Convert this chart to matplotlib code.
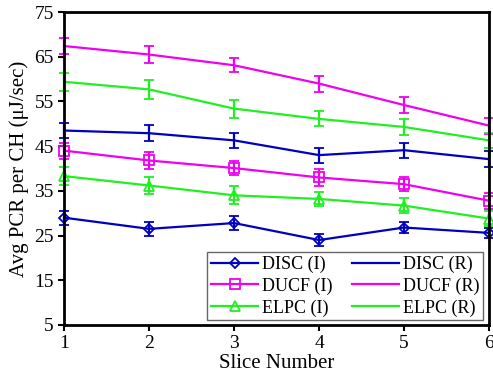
import matplotlib
matplotlib.use("Agg")
import matplotlib.pyplot as plt
from matplotlib.lines import Line2D

plt.rcParams['font.family'] = ['Liberation Serif', 'DejaVu Serif']

slices = [1, 2, 3, 4, 5, 6]

disc_i = [29.0, 26.5, 27.8, 24.0, 26.8, 25.6]
disc_r = [48.5, 47.9, 46.3, 43.0, 44.1, 42.1]
ducf_i = [44.0, 41.8, 40.1, 38.0, 36.5, 32.8]
ducf_r = [67.4, 65.5, 63.1, 59.0, 54.2, 49.6]
elpc_i = [38.3, 36.2, 34.0, 33.2, 31.7, 28.8]
elpc_r = [59.4, 57.7, 53.4, 51.1, 49.3, 46.3]

disc_i_err = [1.6, 1.5, 1.6, 1.4, 1.2, 1.2]
disc_r_err = [1.6, 1.8, 1.6, 1.7, 1.7, 1.8]
ducf_i_err = [1.8, 1.8, 1.5, 1.8, 1.5, 1.8]
ducf_r_err = [1.8, 1.8, 1.6, 1.8, 1.8, 1.8]
elpc_i_err = [2.0, 2.0, 2.0, 1.6, 1.6, 1.6]
elpc_r_err = [2.0, 2.2, 2.0, 1.7, 1.7, 1.6]

blue = '#0000c0'
pink = '#f000f0'
green = '#20f020'

series = [
    ('DISC (I)', disc_i, disc_i_err, blue, 'D', 5.5),
    ('DUCF (I)', ducf_i, ducf_i_err, pink, 's', 7),
    ('ELPC (I)', elpc_i, elpc_i_err, green, '^', 7),
    ('DISC (R)', disc_r, disc_r_err, blue, None, 0),
    ('DUCF (R)', ducf_r, ducf_r_err, pink, None, 0),
    ('ELPC (R)', elpc_r, elpc_r_err, green, None, 0),
]

fig = plt.figure(figsize=(4.93, 3.77), dpi=100)
ax = fig.add_axes([0.130, 0.138, 0.862, 0.830])

handles = []
for label, vals, err, col, mk, ms in series:
    cont = ax.errorbar(slices, vals, yerr=err, color=col, marker=mk, markersize=ms,
                       markerfacecolor='none', markeredgewidth=1.3,
                       capsize=3.5, elinewidth=1.6, capthick=1.6, linewidth=1.6)
    for art in cont.get_children():
        art.set_clip_on(False)
    handles.append(Line2D([], [], color=col, marker=mk, markersize=ms, markerfacecolor='none',
                          markeredgewidth=1.3, linewidth=1.6, label=label))

ax.set_xlim(1, 6)
ax.set_ylim(5, 75)
ax.set_xticks(slices)
ax.set_yticks(range(5, 76, 10))
ax.tick_params(labelsize=14, direction='out', length=4, width=1.5, right=False, top=False)
for s in ax.spines.values():
    s.set_linewidth(2)
ax.set_xlabel('Slice Number', fontsize=15, labelpad=1)
ax.set_ylabel('Avg PCR per CH (\u03bcJ/sec)', fontsize=15)

leg = ax.legend(handles=handles, ncol=2, loc='lower right',
                fontsize=13, frameon=True, fancybox=False, edgecolor='#404040',
                handlelength=2.6, handletextpad=0.2, columnspacing=1.1, borderpad=0.2,
                labelspacing=0.25, borderaxespad=0, bbox_to_anchor=(0.985, 0.015))
leg.get_frame().set_linewidth(1.0)
leg.set_zorder(5)

fig.savefig('out.png', dpi=100)
